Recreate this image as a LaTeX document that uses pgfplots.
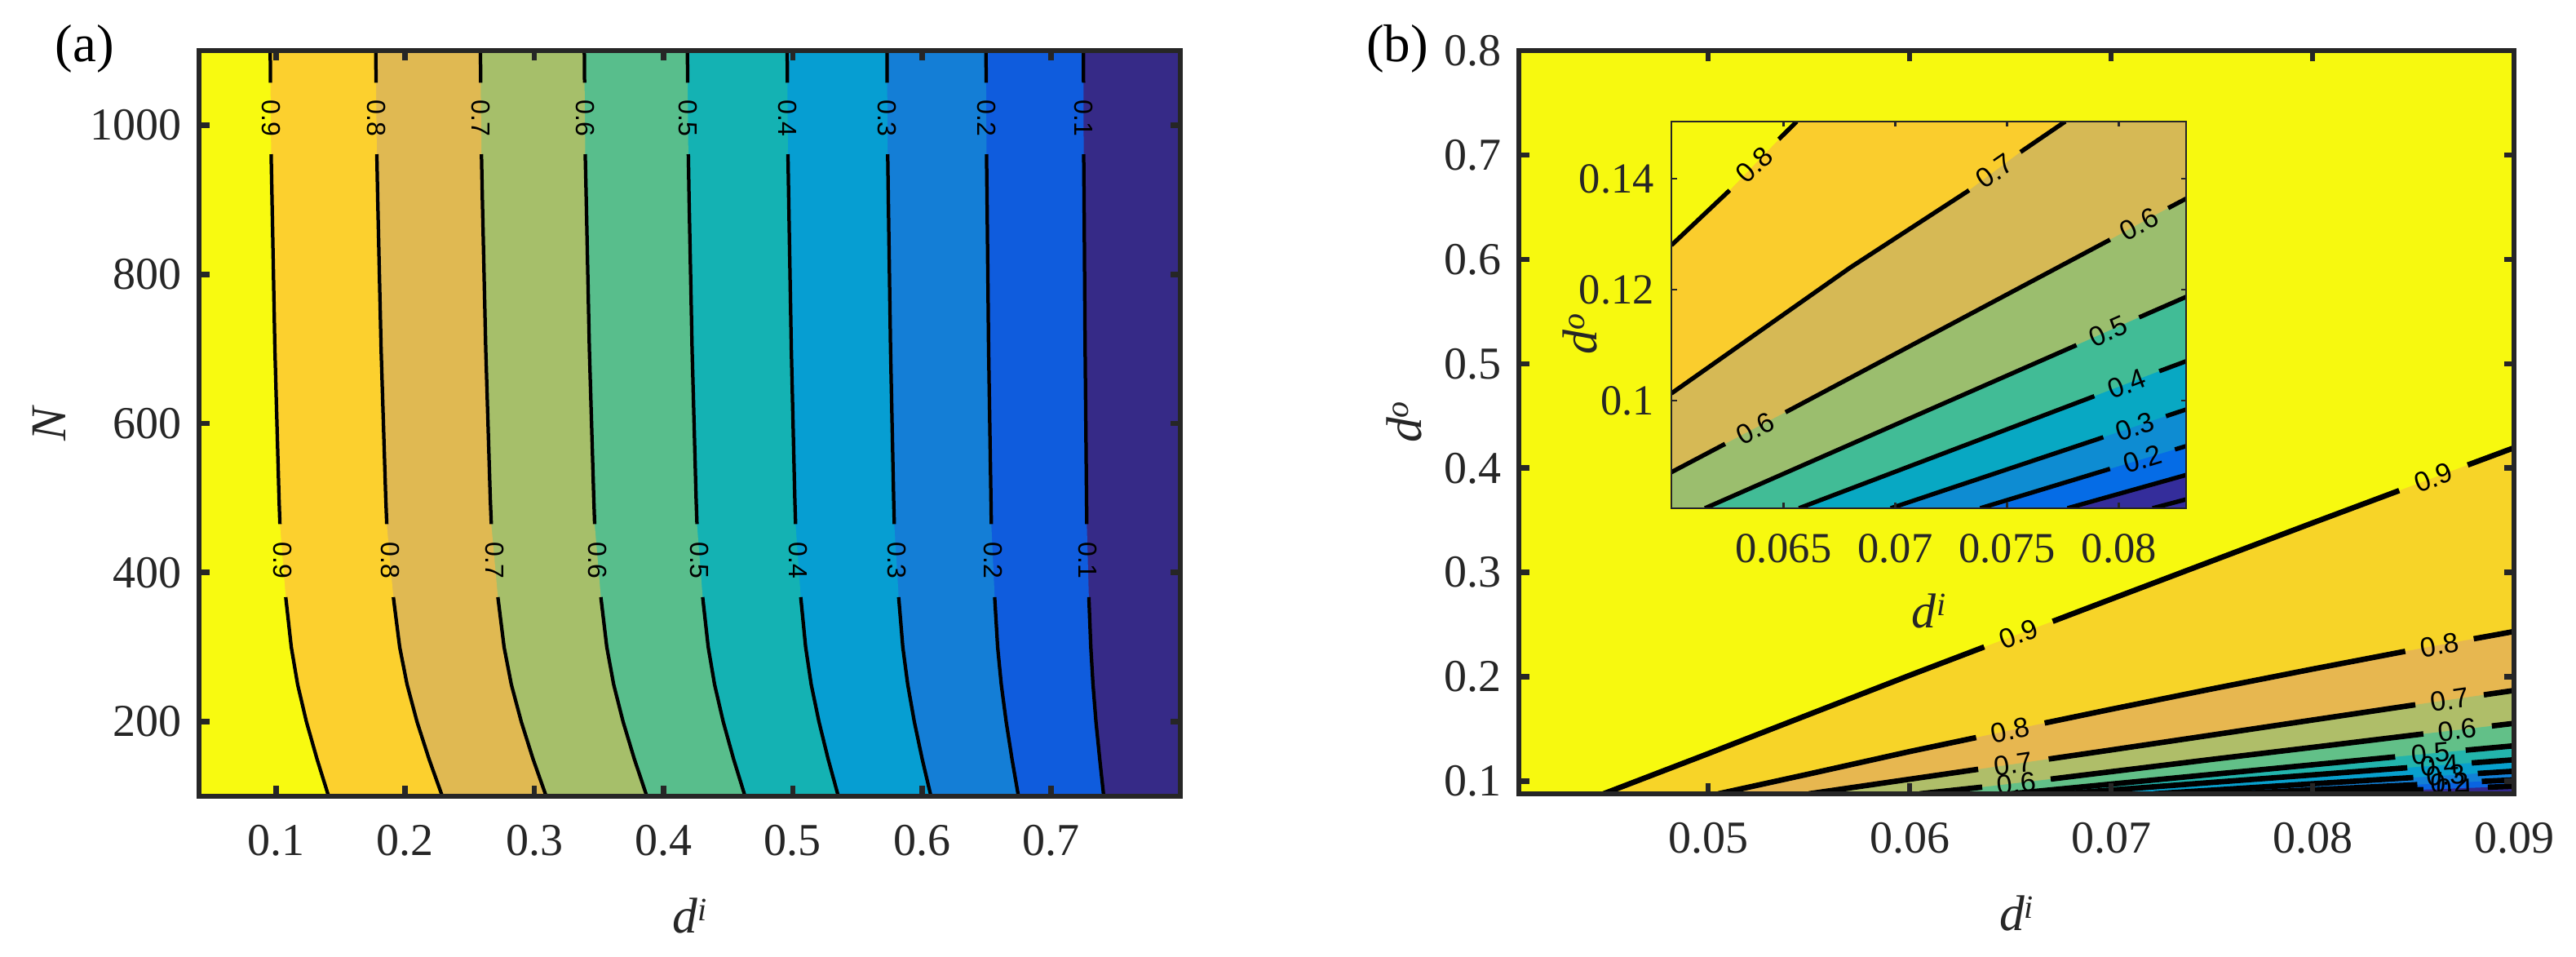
\documentclass[border=0pt]{standalone}
\usepackage{fontspec}
\setmainfont{Liberation Serif}
\newfontfamily\lblfont{Liberation Sans}
\usepackage{pgfplots}
\usepackage{pgfplotstable}
\pgfplotsset{compat=1.18}

\definecolor{axgray}{RGB}{38,38,38}
% panel (a) bands, from the left
\definecolor{a9}{RGB}{248,250,16}
\definecolor{a8}{RGB}{252,208,46}
\definecolor{a7}{RGB}{224,185,82}
\definecolor{a6}{RGB}{166,191,106}
\definecolor{a5}{RGB}{88,190,140}
\definecolor{a4}{RGB}{20,178,179}
\definecolor{a3}{RGB}{6,158,210}
\definecolor{a2}{RGB}{20,126,214}
\definecolor{a1}{RGB}{15,92,221}
\definecolor{a0}{RGB}{54,42,135}
% panel (b)
\definecolor{b9}{RGB}{247,249,15}
\definecolor{b8}{RGB}{247,212,40}
\definecolor{b7}{RGB}{231,183,80}
\definecolor{b6}{RGB}{175,190,105}
\definecolor{b5}{RGB}{98,192,136}
\definecolor{b4}{RGB}{35,180,172}
\definecolor{b3}{RGB}{8,160,205}
\definecolor{b2}{RGB}{18,128,214}
\definecolor{b1}{RGB}{10,100,225}
\definecolor{b0}{RGB}{50,40,140}
% inset
\definecolor{i8}{RGB}{247,249,15}
\definecolor{i7}{RGB}{250,205,45}
\definecolor{i6}{RGB}{214,185,85}
\definecolor{i5}{RGB}{155,190,110}
\definecolor{i4}{RGB}{65,188,150}
\definecolor{i3}{RGB}{8,168,195}
\definecolor{i2}{RGB}{14,140,210}
\definecolor{i1}{RGB}{5,108,230}
\definecolor{i0}{RGB}{52,45,155}

% ---------- panel (a): contour lines d^i(N), nan = gap for label
\pgfplotstableread{
x y
0.0956 1100
0.0958 1057
nan nan
0.0963 961
0.0970 900
0.0992 700
0.1024 500
0.1031 465
nan nan
0.1076 367
0.1119 300
0.1168 250
0.1236 200
0.1318 150
0.1408 100
}\Anine
\pgfplotstableread{
x y
0.1773 1100
0.1775 1057
nan nan
0.1781 961
0.1788 900
0.1814 700
0.1850 500
0.1858 465
nan nan
0.1909 367
0.1958 300
0.2015 250
0.2092 200
0.2185 150
0.2288 100
}\Aeight
\pgfplotstableread{
x y
0.2583 1100
0.2585 1057
nan nan
0.2591 961
0.2598 900
0.2624 700
0.2659 500
0.2667 465
nan nan
0.2718 367
0.2766 300
0.2822 250
0.2899 200
0.2990 150
0.3092 100
}\Aseven
\pgfplotstableread{
x y
0.3387 1100
0.3389 1057
nan nan
0.3394 961
0.3402 900
0.3426 700
0.3460 500
0.3467 465
nan nan
0.3515 367
0.3561 300
0.3614 250
0.3687 200
0.3774 150
0.3871 100
}\Asix
\pgfplotstableread{
x y
0.4185 1100
0.4187 1057
nan nan
0.4192 961
0.4198 900
0.4221 700
0.4252 500
0.4259 465
nan nan
0.4303 367
0.4346 300
0.4395 250
0.4462 200
0.4542 150
0.4631 100
}\Afive
\pgfplotstableread{
x y
0.4957 1100
0.4959 1057
nan nan
0.4963 961
0.4969 900
0.4989 700
0.5016 500
0.5022 465
nan nan
0.5062 367
0.5100 300
0.5143 250
0.5203 200
0.5274 150
0.5353 100
}\Afour
\pgfplotstableread{
x y
0.5730 1100
0.5731 1057
nan nan
0.5735 961
0.5740 900
0.5757 700
0.5781 500
0.5786 465
nan nan
0.5820 367
0.5852 300
0.5890 250
0.5941 200
0.6002 150
0.6070 100
}\Athree
\pgfplotstableread{
x y
0.6496 1100
0.6497 1057
nan nan
0.6500 961
0.6504 900
0.6516 700
0.6534 500
0.6537 465
nan nan
0.6563 367
0.6586 300
0.6614 250
0.6652 200
0.6697 150
0.6747 100
}\Atwo
\pgfplotstableread{
x y
0.7250 1100
0.7251 1057
nan nan
0.7252 961
0.7255 900
0.7263 700
0.7274 500
0.7276 465
nan nan
0.7292 367
0.7307 300
0.7324 250
0.7347 200
0.7376 150
0.7407 100
}\Aone

% ---------- panel (b)
\pgfplotstableread{
x y
0.0448 0.088
0.05 0.1265
0.055 0.164
0.06 0.2015
0.0637 0.2287
nan nan
0.0671 0.2532
0.07 0.2745
0.075 0.311
0.08 0.3475
0.0843 0.3785
nan nan
0.0877 0.403
0.09 0.4195
}\Bnine
\pgfplotstableread{
x y
0.0505 0.088
0.055 0.107
0.06 0.1285
0.0633 0.1419
nan nan
0.0667 0.1558
0.07 0.169
0.075 0.1885
0.08 0.2075
0.0846 0.2245
nan nan
0.088 0.2365
0.09 0.2435
}\Beight
\pgfplotstableread{
x y
0.055 0.088
0.06 0.102
0.0634 0.1115
nan nan
0.0669 0.1213
0.07 0.130
0.075 0.1443
0.08 0.1587
0.0851 0.1733
nan nan
0.0885 0.1828
0.09 0.187
}\Bseven
\pgfplotstableread{
x y
0.0605 0.088
0.0636 0.0944
nan nan
0.067 0.1021
0.07 0.1092
0.075 0.121
0.08 0.1325
0.0855 0.1454
nan nan
0.0889 0.153
0.09 0.1555
}\Bsix
\pgfplotstableread{
x y
0.065 0.088
0.07 0.0973
0.075 0.1066
0.08 0.1158
0.0841 0.1234
nan nan
0.0876 0.1298
0.09 0.134
}\Bfive
\pgfplotstableread{
x y
0.0675 0.088
0.07 0.0916
0.075 0.0989
0.08 0.1061
0.0847 0.113
nan nan
0.0879 0.1176
0.09 0.1206
}\Bfour
\pgfplotstableread{
x y
0.0721 0.088
0.075 0.0915
0.08 0.0976
0.085 0.1036
nan nan
0.0882 0.1075
0.09 0.1097
}\Bthree
\pgfplotstableread{
x y
0.076 0.088
0.08 0.0918
0.0852 0.0968
nan nan
0.0884 0.0999
0.09 0.1014
}\Btwo
\pgfplotstableread{
x y
0.079 0.088
0.0855 0.092
nan nan
0.0887 0.0943
0.09 0.0953
}\Bone

% ---------- inset
\pgfplotstableread{
x y
0.06 0.128
0.0626 0.1379
nan nan
0.0648 0.1471
0.0656 0.1503
}\Ieight
\pgfplotstableread{
x y
0.06 0.1013
0.068 0.124
0.0733 0.1379
nan nan
0.0756 0.1448
0.0776 0.1503
}\Iseven
\pgfplotstableread{
x y
0.06 0.0871
0.0624 0.0922
nan nan
0.0651 0.0979
0.0796 0.129
nan nan
0.0822 0.1347
0.083 0.1364
}\Isix
\pgfplotstableread{
x y
0.0615 0.0806
0.0781 0.11
nan nan
0.0809 0.115
0.083 0.1187
}\Ifive
\pgfplotstableread{
x y
0.0657 0.0806
0.0789 0.1008
nan nan
0.0818 0.1053
0.083 0.1071
}\Ifour
\pgfplotstableread{
x y
0.0698 0.0806
0.0793 0.0934
nan nan
0.0821 0.0972
0.083 0.0984
}\Ithree
\pgfplotstableread{
x y
0.0738 0.0806
0.0796 0.0877
nan nan
0.0825 0.0912
0.083 0.0918
}\Itwo
\pgfplotstableread{
x y
0.0777 0.0806
0.083 0.0866
}\Ione
\pgfplotstableread{
x y
0.0815 0.0806
0.083 0.0822
}\Izero

\pgfplotsset{
  contourax/.style={
    scale only axis, axis on top, anchor=south west,
    tick align=inside, tick pos=both, scaled ticks=false,
    axis line style={draw=axgray, line width=1.33pt},
    tick style={draw=axgray, line width=1.33pt},
    major tick length=2.5pt,
    tick label style={font=\rmfamily\fontsize{11.2}{13}\selectfont, text=axgray},
    /pgf/number format/assume math mode=true,
    label style={font=\rmfamily\fontsize{12.3}{14}\selectfont, text=axgray},
  },
  cline/.style={black, mark=none, unbounded coords=jump},
}
\tikzset{
  lab/.style={font=\lblfont\fontsize{6.4}{7}\selectfont, inner sep=0pt, rotate=-90},
  labb/.style={font=\lblfont\fontsize{6.8}{8}\selectfont, inner sep=0pt},
}
\newcommand{\di}{\textit{d}\raisebox{0.55ex}{\fontsize{8}{8}\selectfont\textit{i}}}
\newcommand{\dout}{\textit{d}\raisebox{0.55ex}{\fontsize{8}{8}\selectfont\textit{o}}}

\begin{document}
\begin{tikzpicture}
\useasboundingbox (0,0) rectangle (631.6pt,234.6pt);

% ======== (a)
\begin{axis}[contourax, at={(48.8pt,39.4pt)},
  width=240.6pt, height=182.8pt,
  xmin=0.0405, xmax=0.8, ymin=100, ymax=1100,
  xtick={0.1,0.2,0.3,0.4,0.5,0.6,0.7},
  xticklabels={0.1,0.2,0.3,0.4,0.5,0.6,0.7},
  ytick={200,400,600,800,1000},
  yticklabels={200,400,600,800,1000},
  xticklabel style={yshift=-3.6pt},
  yticklabel style={xshift=-0.8pt},
  axis background/.style={fill=a0},
  xlabel={\di}, ylabel={\textit{N}},
  x label style={at={(axis description cs:0.5,0)}, anchor=base, yshift=-33.6pt},
  y label style={at={(axis description cs:-0.153,0.5)}, anchor=center},
]
\addplot[fill=a1, draw=none] table {\Aone} -- (axis cs:0.0405,100) -- (axis cs:0.0405,1100) -- cycle;
\addplot[fill=a2, draw=none] table {\Atwo} -- (axis cs:0.0405,100) -- (axis cs:0.0405,1100) -- cycle;
\addplot[fill=a3, draw=none] table {\Athree} -- (axis cs:0.0405,100) -- (axis cs:0.0405,1100) -- cycle;
\addplot[fill=a4, draw=none] table {\Afour} -- (axis cs:0.0405,100) -- (axis cs:0.0405,1100) -- cycle;
\addplot[fill=a5, draw=none] table {\Afive} -- (axis cs:0.0405,100) -- (axis cs:0.0405,1100) -- cycle;
\addplot[fill=a6, draw=none] table {\Asix} -- (axis cs:0.0405,100) -- (axis cs:0.0405,1100) -- cycle;
\addplot[fill=a7, draw=none] table {\Aseven} -- (axis cs:0.0405,100) -- (axis cs:0.0405,1100) -- cycle;
\addplot[fill=a8, draw=none] table {\Aeight} -- (axis cs:0.0405,100) -- (axis cs:0.0405,1100) -- cycle;
\addplot[fill=a9, draw=none] table {\Anine} -- (axis cs:0.0405,100) -- (axis cs:0.0405,1100) -- cycle;
\addplot[cline, line width=0.85pt] table {\Aone};
\addplot[cline, line width=0.85pt] table {\Atwo};
\addplot[cline, line width=0.85pt] table {\Athree};
\addplot[cline, line width=0.85pt] table {\Afour};
\addplot[cline, line width=0.85pt] table {\Afive};
\addplot[cline, line width=0.85pt] table {\Asix};
\addplot[cline, line width=0.85pt] table {\Aseven};
\addplot[cline, line width=0.85pt] table {\Aeight};
\addplot[cline, line width=0.85pt] table {\Anine};
\node[lab] at (axis cs:0.0961,1009) {0.9};
\node[lab] at (axis cs:0.1778,1009) {0.8};
\node[lab] at (axis cs:0.2588,1009) {0.7};
\node[lab] at (axis cs:0.3392,1009) {0.6};
\node[lab] at (axis cs:0.4190,1009) {0.5};
\node[lab] at (axis cs:0.4961,1009) {0.4};
\node[lab] at (axis cs:0.5733,1009) {0.3};
\node[lab] at (axis cs:0.6499,1009) {0.2};
\node[lab] at (axis cs:0.7252,1009) {0.1};
\node[lab] at (axis cs:0.1054,416) {0.9};
\node[lab] at (axis cs:0.1884,416) {0.8};
\node[lab] at (axis cs:0.2693,416) {0.7};
\node[lab] at (axis cs:0.3491,416) {0.6};
\node[lab] at (axis cs:0.4281,416) {0.5};
\node[lab] at (axis cs:0.5042,416) {0.4};
\node[lab] at (axis cs:0.5803,416) {0.3};
\node[lab] at (axis cs:0.6550,416) {0.2};
\node[lab] at (axis cs:0.7284,416) {0.1};
\end{axis}

% ======== (b)
\begin{axis}[contourax, at={(372.4pt,40pt)},
  width=244pt, height=182.2pt,
  xmin=0.0406, xmax=0.09, ymin=0.088, ymax=0.8,
  xtick={0.05,0.06,0.07,0.08,0.09},
  xticklabels={0.05,0.06,0.07,0.08,0.09},
  ytick={0.1,0.2,0.3,0.4,0.5,0.6,0.7,0.8},
  yticklabels={0.1,0.2,0.3,0.4,0.5,0.6,0.7,0.8},
  xticklabel style={yshift=-3.6pt},
  yticklabel style={xshift=-0.8pt},
  axis background/.style={fill=b9},
  xlabel={\di}, ylabel={\dout},
  x label style={at={(axis description cs:0.5,0)}, anchor=base, yshift=-33.6pt},
  y label style={at={(axis description cs:-0.1156,0.5)}, anchor=center},
]
\addplot[fill=b8, draw=none] table {\Bnine} -- (axis cs:0.09,0.088) -- cycle;
\addplot[fill=b7, draw=none] table {\Beight} -- (axis cs:0.09,0.088) -- cycle;
\addplot[fill=b6, draw=none] table {\Bseven} -- (axis cs:0.09,0.088) -- cycle;
\addplot[fill=b5, draw=none] table {\Bsix} -- (axis cs:0.09,0.088) -- cycle;
\addplot[fill=b4, draw=none] table {\Bfive} -- (axis cs:0.09,0.088) -- cycle;
\addplot[fill=b3, draw=none] table {\Bfour} -- (axis cs:0.09,0.088) -- cycle;
\addplot[fill=b2, draw=none] table {\Bthree} -- (axis cs:0.09,0.088) -- cycle;
\addplot[fill=b1, draw=none] table {\Btwo} -- (axis cs:0.09,0.088) -- cycle;
\addplot[fill=b0, draw=none] table {\Bone} -- (axis cs:0.09,0.088) -- cycle;
\addplot[cline, line width=1.33pt] table {\Bone};
\addplot[cline, line width=1.33pt] table {\Btwo};
\addplot[cline, line width=1.33pt] table {\Bthree};
\addplot[cline, line width=1.33pt] table {\Bfour};
\addplot[cline, line width=1.33pt] table {\Bfive};
\addplot[cline, line width=1.33pt] table {\Bsix};
\addplot[cline, line width=1.33pt] table {\Bseven};
\addplot[cline, line width=1.33pt] table {\Beight};
\addplot[cline, line width=1.33pt] table {\Bnine};
\node[labb, rotate=20.7] at (axis cs:0.0654,0.2409) {0.9};
\node[labb, rotate=20.7] at (axis cs:0.0860,0.3907) {0.9};
\node[labb, rotate=12] at (axis cs:0.0650,0.1490) {0.8};
\node[labb, rotate=10] at (axis cs:0.0863,0.2306) {0.8};
\node[labb, rotate=8.3] at (axis cs:0.06515,0.1164) {0.7};
\node[labb, rotate=8.3] at (axis cs:0.0868,0.1780) {0.7};
\node[labb, rotate=6.5] at (axis cs:0.0653,0.0982) {0.6};
\node[labb, rotate=6.8] at (axis cs:0.0872,0.1492) {0.6};
\node[labb, rotate=5.5] at (axis cs:0.08585,0.1266) {0.5};
\node[labb, rotate=4.3] at (axis cs:0.0863,0.1153) {0.4};
\node[labb, rotate=3.6] at (axis cs:0.0866,0.1055) {0.3};
\node[labb, rotate=2.8] at (axis cs:0.0868,0.0984) {0.2};
\node[labb, rotate=1.8] at (axis cs:0.0871,0.0931) {0.1};
\end{axis}

% ======== inset
\begin{axis}[contourax, at={(409.8pt,110pt)},
  width=126.2pt, height=94.8pt,
  xmin=0.06, xmax=0.083, ymin=0.0806, ymax=0.1503,
  axis line style={draw=axgray, line width=0.55pt},
  tick style={draw=axgray, line width=0.55pt},
  major tick length=1.3pt,
  tick label style={font=\rmfamily\fontsize{10.5}{12}\selectfont, text=axgray},
  xticklabel style={yshift=-2.7pt},
  yticklabel style={xshift=-0.7pt},
  xtick={0.065,0.07,0.075,0.08},
  xticklabels={0.065,0.07,0.075,0.08},
  ytick={0.1,0.12,0.14},
  yticklabels={0.1,0.12,0.14},
  axis background/.style={fill=i7},
  label style={font=\rmfamily\fontsize{12}{14}\selectfont, text=axgray},
  xlabel={\di}, ylabel={\dout},
  x label style={at={(axis description cs:0.5,0)}, anchor=base, yshift=-29.4pt},
  y label style={at={(axis description cs:-0.1775,0.45)}, anchor=center},
]
\addplot[fill=i8, draw=none] table {\Ieight} -- (axis cs:0.06,0.1503) -- cycle;
\addplot[fill=i6, draw=none] table {\Iseven} -- (axis cs:0.083,0.1503) -- (axis cs:0.083,0.0806) -- (axis cs:0.06,0.0806) -- cycle;
\addplot[fill=i5, draw=none] table {\Isix} -- (axis cs:0.083,0.0806) -- (axis cs:0.06,0.0806) -- cycle;
\addplot[fill=i4, draw=none] table {\Ifive} -- (axis cs:0.083,0.0806) -- cycle;
\addplot[fill=i3, draw=none] table {\Ifour} -- (axis cs:0.083,0.0806) -- cycle;
\addplot[fill=i2, draw=none] table {\Ithree} -- (axis cs:0.083,0.0806) -- cycle;
\addplot[fill=i1, draw=none] table {\Itwo} -- (axis cs:0.083,0.0806) -- cycle;
\addplot[fill=i0, draw=none] table {\Ione} -- (axis cs:0.083,0.0806) -- cycle;
\addplot[cline, line width=1.07pt] table {\Izero};
\addplot[cline, line width=1.07pt] table {\Ione};
\addplot[cline, line width=1.07pt] table {\Itwo};
\addplot[cline, line width=1.07pt] table {\Ithree};
\addplot[cline, line width=1.07pt] table {\Ifour};
\addplot[cline, line width=1.07pt] table {\Ifive};
\addplot[cline, line width=1.07pt] table {\Isix};
\addplot[cline, line width=1.07pt] table {\Iseven};
\addplot[cline, line width=1.07pt] table {\Ieight};
\node[labb, rotate=44] at (axis cs:0.0637,0.1425) {0.8};
\node[labb, rotate=34.6] at (axis cs:0.07445,0.14135) {0.7};
\node[labb, rotate=27.8] at (axis cs:0.06375,0.0950) {0.6};
\node[labb, rotate=27.8] at (axis cs:0.0809,0.1318) {0.6};
\node[labb, rotate=23.6] at (axis cs:0.0795,0.1125) {0.5};
\node[labb, rotate=20.7] at (axis cs:0.08035,0.1030) {0.4};
\node[labb, rotate=18.5] at (axis cs:0.0807,0.0953) {0.3};
\node[labb, rotate=16.7] at (axis cs:0.08105,0.0895) {0.2};
\end{axis}

\node[font=\fontsize{13}{15}\selectfont] at (20.8pt,222.6pt) {(a)};
\node[font=\fontsize{13}{15}\selectfont] at (342.6pt,222.6pt) {(b)};
\end{tikzpicture}
\end{document}
